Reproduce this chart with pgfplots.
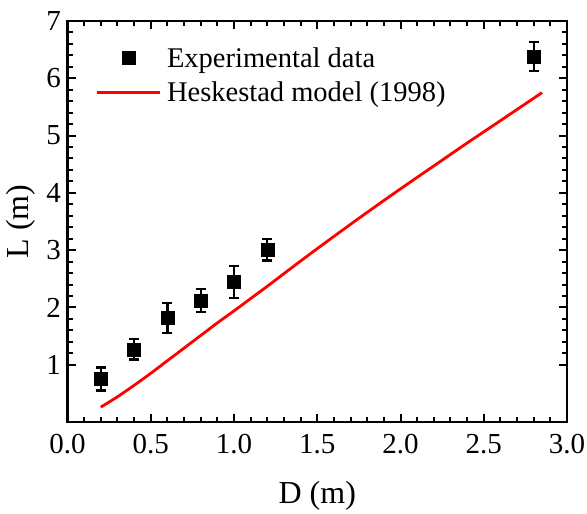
\documentclass[border=0pt]{standalone}
\usepackage{fontspec}
\setmainfont{Liberation Serif}
\usepackage{pgfplots}
\pgfplotsset{compat=1.18}
\begin{document}
\begin{tikzpicture}
\begin{axis}[
  scale only axis,
  width=499.5pt, height=401pt,
  xmin=0, xmax=3, ymin=0, ymax=7,
  xtick={0,0.5,...,3}, ytick={1,2,3,4,5,6,7},
  minor x tick num=4, minor y tick num=4,
  tick align=inside,
  major tick length=8pt, minor tick length=5pt,
  axis line style={line width=2.2pt},
  every tick/.style={line width=2pt, black},
  tick label style={font=\fontsize{29}{29}\selectfont},
  /pgf/number format/assume math mode=true,
  xticklabel style={yshift=-9pt, /pgf/number format/.cd, fixed, fixed zerofill, precision=1},
  yticklabel style={xshift=-3pt, /pgf/number format/.cd, fixed, precision=0},
  xlabel={D (m)}, ylabel={L (m)},
  label style={font=\fontsize{32}{32}\selectfont},
  xlabel style={yshift=-20pt},
  ylabel style={yshift=4pt},
  legend style={draw=none, fill=none, font=\fontsize{28.5}{28.5}\selectfont,
    at={(0.05,0.945)}, anchor=north west, row sep=9pt,
    /tikz/every odd column/.append style={column sep=4pt}},
  legend cell align=left,
  legend image code/.code={\draw[mark repeat=2,mark phase=2,#1] plot coordinates {(0cm,0cm) (1.1cm,0cm) (2.2cm,0cm)};},
]
\addplot+[only marks, black, mark=square*, mark size=6.5pt, mark options={fill=black},
  error bars/.cd, y dir=both, y explicit,
  error bar style={line width=2.2pt, black},
  error mark options={rotate=90, mark size=5pt, line width=2.2pt, black}]
  coordinates {
  (0.2,0.75) +- (0,0.2)
  (0.4,1.27) +- (0,0.18)
  (0.6,1.82) +- (0,0.26)
  (0.8,2.12) +- (0,0.2)
  (1.0,2.45) +- (0,0.28)
  (1.2,3.01) +- (0,0.19)
  (2.8,6.38) +- (0,0.25)
  };
\addlegendentry{Experimental data}
\addplot[red, line width=2.8pt, no marks, smooth, tension=0.5] coordinates {
  (0.2,0.26) (0.3,0.44) (0.4,0.64) (0.5,0.85) (0.6,1.07) (0.7,1.29)
  (0.8,1.51) (0.9,1.73) (1.0,1.94) (1.2,2.37) (1.4,2.81) (1.6,3.24)
  (1.8,3.66) (2.0,4.07) (2.2,4.47) (2.4,4.87) (2.6,5.26) (2.85,5.75)
  };
\addlegendentry{Heskestad model (1998)}
\end{axis}
\pgfresetboundingbox
\path (current axis.south west) ++(-67.5pt,-91pt) coordinate (bbsw);
\path (current axis.north east) ++(20pt,21pt) coordinate (bbne);
\useasboundingbox (bbsw) rectangle (bbne);
\end{tikzpicture}
\end{document}
